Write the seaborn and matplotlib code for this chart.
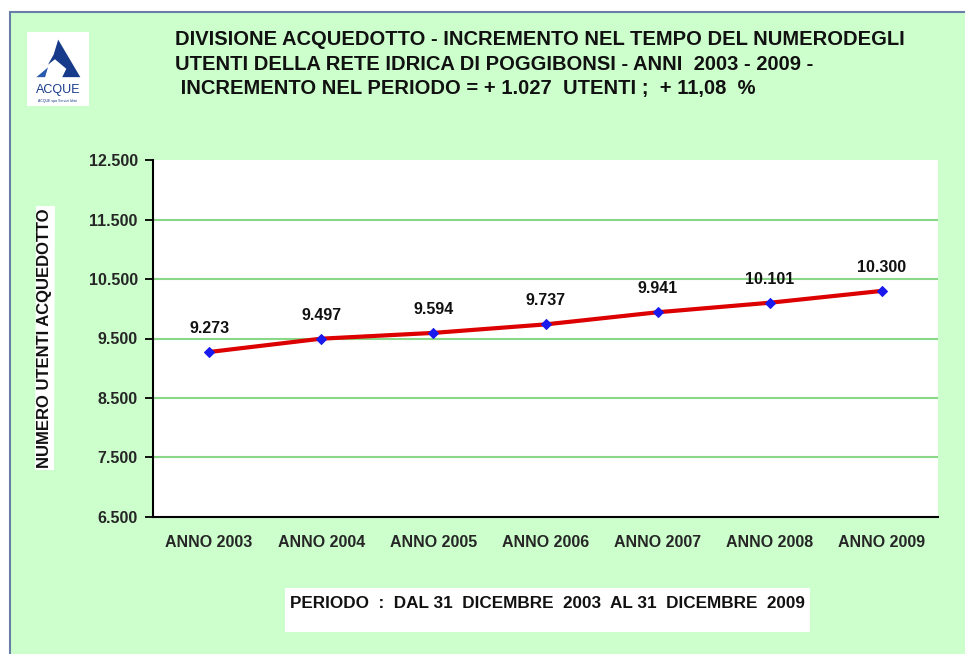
import matplotlib
matplotlib.use("Agg")
import matplotlib.pyplot as plt
from matplotlib.patches import Rectangle, Polygon
import seaborn as sns
import pandas as pd

sns.set_style("white")
plt.rcParams["font.family"] = ["Liberation Sans", "DejaVu Sans"]

# ── Data ─────────────────────────────────────────────────────────────────────
anni = ["ANNO 2003", "ANNO 2004", "ANNO 2005", "ANNO 2006", "ANNO 2007", "ANNO 2008", "ANNO 2009"]
utenti = [9273, 9497, 9594, 9737, 9941, 10101, 10300]
y_ticks = [6500, 7500, 8500, 9500, 10500, 11500, 12500]

titolo = ("DIVISIONE ACQUEDOTTO - INCREMENTO NEL TEMPO DEL NUMERODEGLI\n"
          "UTENTI DELLA RETE IDRICA DI POGGIBONSI - ANNI  2003 - 2009 -\n"
          " INCREMENTO NEL PERIODO = + 1.027  UTENTI ;  + 11,08  %")
periodo = "PERIODO  :  DAL 31  DICEMBRE  2003  AL 31  DICEMBRE  2009"

df = pd.DataFrame({"anno": anni, "utenti": utenti})

def fmt(v):
    return f"{v:,}".replace(",", ".")

# ── Figure + green frame ─────────────────────────────────────────────────────
fig = plt.figure(figsize=(9.65, 6.54), dpi=100)
fig.patch.set_facecolor("white")
fig.patches.append(Rectangle((10 / 965, -0.01), 1.0, 1.01 - 12 / 654, transform=fig.transFigure,
                             facecolor="#ccffcc", edgecolor="#6a7fa8", linewidth=1.5, zorder=-5))

# title
fig.text(175 / 965, 1 - 30 / 654, titolo, ha="left", va="top", fontsize=14.5,
         fontweight="bold", linespacing=1.38, color="#111111")

# logo
lax = fig.add_axes([27 / 965, 1 - 106 / 654, 62 / 965, 74 / 654])
lax.set_xlim(0, 1); lax.set_ylim(0, 1); lax.axis("off")
lax.add_patch(Rectangle((0, 0), 1, 1, facecolor="white", edgecolor="none"))
lax.add_patch(Polygon([[0.5, 0.92], [0.88, 0.38], [0.55, 0.38], [0.62, 0.5], [0.45, 0.62],
                       [0.3, 0.52], [0.42, 0.7]], closed=True, facecolor="#173a8a"))
lax.add_patch(Polygon([[0.12, 0.38], [0.3, 0.38], [0.36, 0.55]], closed=True, facecolor="#2a5bb0"))
lax.text(0.5, 0.22, "ACQUE", ha="center", va="center", fontsize=9, color="#173a8a")
lax.text(0.5, 0.07, "ACQUE spa Servizi Idrici", ha="center", va="center", fontsize=2.5, color="#173a8a")

# ── Main plot ────────────────────────────────────────────────────────────────
ax = fig.add_axes([153 / 965, 1 - 517 / 654, 785 / 965, 357 / 654])
ax.set_facecolor("white")
sns.lineplot(data=df, x="anno", y="utenti", ax=ax, color="#dd0000", linewidth=3,
             marker="D", markersize=5, markerfacecolor="#1a1aee", markeredgecolor="#1a1aee",
             zorder=3)

for i, v in enumerate(utenti):
    ax.annotate(fmt(v), (i, v), xytext=(0, 17), textcoords="offset points",
                ha="center", va="center", fontsize=11.5, fontweight="bold", color="#111111")

ax.set_ylim(y_ticks[0], y_ticks[-1])
ax.set_xlim(-0.5, len(anni) - 0.5)
ax.set_yticks(y_ticks)
ax.set_yticklabels([fmt(t) for t in y_ticks], fontsize=11.5, fontweight="bold")
ax.set_xticks(range(len(anni)))
ax.set_xticklabels(anni, fontsize=11.5, fontweight="bold")
ax.set_xticks([i - 0.5 for i in range(len(anni) + 1)], minor=True)
ax.tick_params(axis="x", which="major", length=0, pad=13)
ax.tick_params(axis="x", which="minor", length=6, width=1.3, direction="out", color="black")
ax.tick_params(axis="y", length=6, width=1.3, direction="out", color="black", pad=5, left=True)

for y in y_ticks[1:-1]:
    ax.axhline(y, color="#88d888", linewidth=1.5, zorder=1)

for s in ["top", "right"]:
    ax.spines[s].set_visible(False)
for s in ["left", "bottom"]:
    ax.spines[s].set_color("black")
    ax.spines[s].set_linewidth(1.5)

ax.set_xlabel("")
ax.set_ylabel("")
ax.grid(False)

# y axis title with white background
fig.text(45 / 965, 1 - 338 / 654, "NUMERO UTENTI ACQUEDOTTO", rotation=90, ha="center", va="center",
         fontsize=12, fontweight="bold", color="#111111",
         bbox=dict(facecolor="white", edgecolor="none", pad=1.5))

# period box
fig.patches.append(Rectangle((285 / 965, 1 - 632 / 654), 525 / 965, 44 / 654,
                             transform=fig.transFigure, facecolor="white", edgecolor="none", zorder=1))
fig.text(290 / 965, 1 - 603 / 654, periodo, ha="left", va="center", fontsize=12.3,
         fontweight="bold", color="#111111", zorder=2)

fig.savefig("out.png", dpi=100)
